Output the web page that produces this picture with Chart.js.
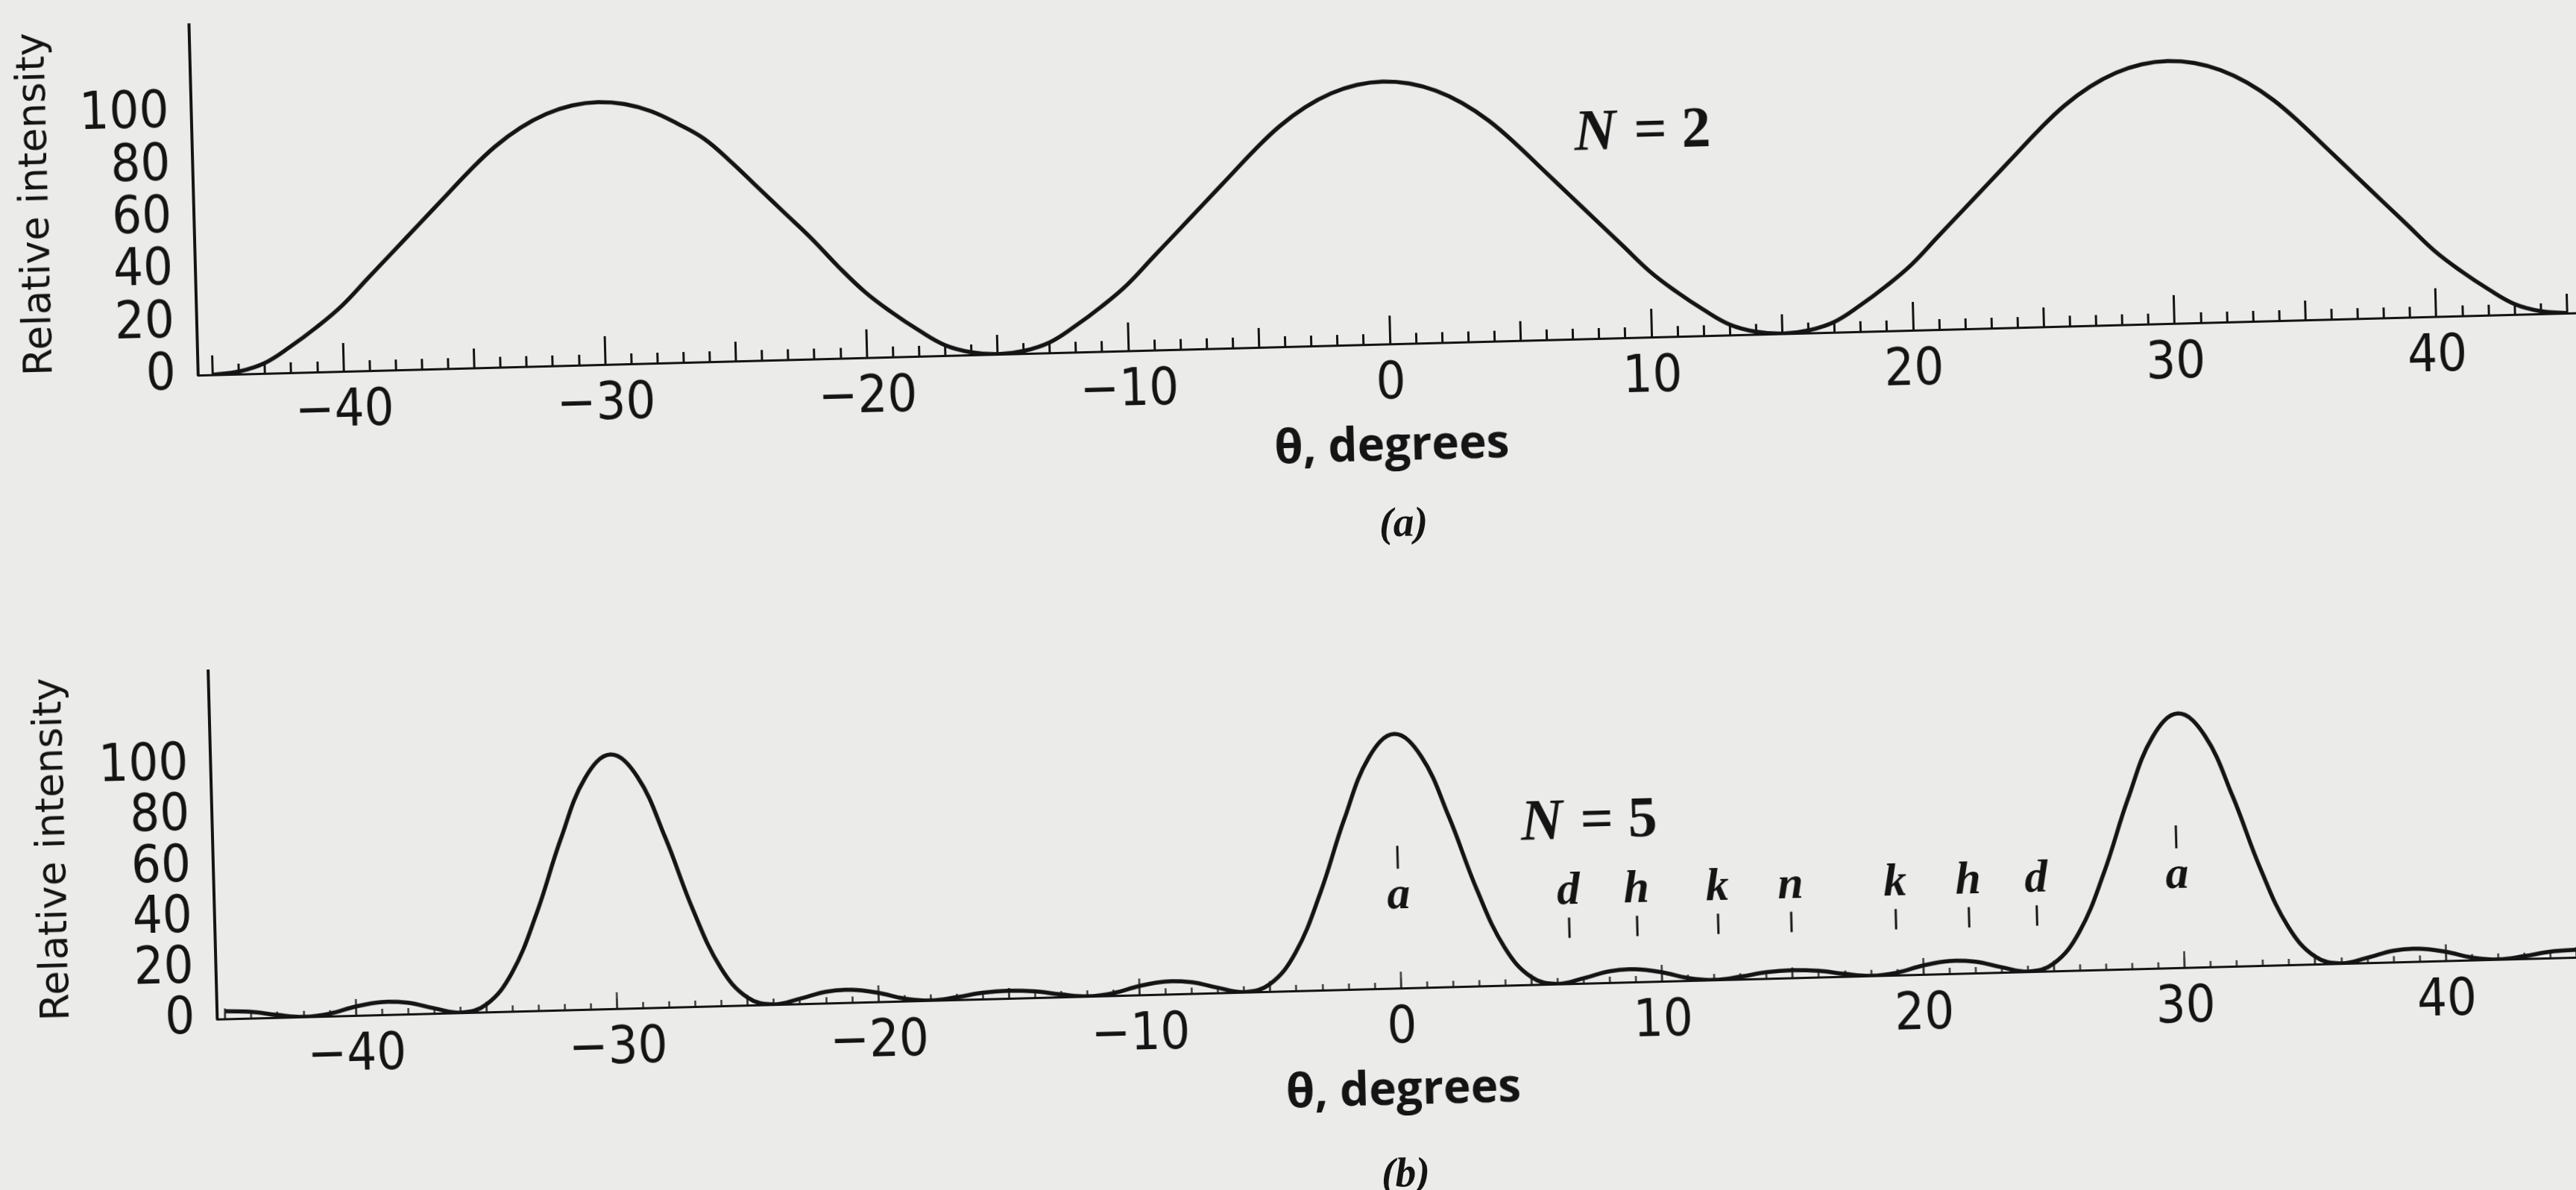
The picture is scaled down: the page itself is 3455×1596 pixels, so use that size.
<!DOCTYPE html>
<html lang="en">
<head>
<meta charset="utf-8">
<title>Relative intensity for N = 2 and N = 5</title>
<script src="https://cdn.jsdelivr.net/npm/chart.js@4.4.1/dist/chart.umd.min.js"></script>
<style>
  html, body { margin: 0; padding: 0; width: 3455px; height: 1596px; overflow: hidden; background: #ebebea; }
  /* the printed figure sits slightly skewed on the page */
  #sheet { position: absolute; left: -100px; top: -100px; width: 3655px; height: 1796px;
           transform-origin: 1827.5px 898px; transform: rotate(-1.5deg); }
  #sheet canvas { position: absolute; }
  .caption { position: absolute; transform: translate(-50%, -50%);
             font: italic bold 56px "Liberation Serif", "DejaVu Serif", serif;
             color: #141414; white-space: nowrap; }
</style>
</head>
<body>
<div id="sheet">
  <canvas id="chartA" width="3490" height="680" style="left:100px; top:85px; width:3490px; height:680px;"></canvas>
  <div class="caption" style="left:1985px; top:804px;">(a)</div>
  <canvas id="chartB" width="3473" height="677" style="left:100px; top:952px; width:3473px; height:677px;"></canvas>
  <div class="caption" style="left:1965px; top:1676px;">(b)</div>
</div>
<script>
const INK = '#141414';

// angle samples, degrees
const THETA = [
  -45, -44, -43, -42, -41, -40, -39, -38, -37, -36,
  -35, -34, -33, -32, -31, -30, -29, -28, -27, -26,
  -25, -24, -23, -22, -21, -20, -19, -18, -17, -16,
  -15, -14, -13, -12, -11, -10,  -9,  -8,  -7,  -6,
   -5,  -4,  -3,  -2,  -1,   0,   1,   2,   3,   4,
    5,   6,   7,   8,   9,  10,  11,  12,  13,  14,
   15,  16,  17,  18,  19,  20,  21,  22,  23,  24,
   25,  26,  27,  28,  29,  30,  31,  32,  33,  34,
   35,  36,  37,  38,  39,  40,  41,  42,  43,  44,
   45
];

// relative intensity, two sources (N = 2)
const N2_INTENSITY = [
    0,   1,   4,  10,  17,  25,  35,  45,  55,  65,
   75,  84,  91,  96,  99, 100,  99,  96,  91,  85,
   76,  66,  56,  46,  35,  25,  17,  10,   4,   1,
    0,   1,   4,  10,  17,  25,  35,  45,  55,  65,
   75,  84,  91,  96,  99, 100,  99,  96,  91,  84,
   75,  65,  55,  45,  35,  25,  17,  10,   4,   1,
    0,   1,   4,  10,  17,  25,  35,  45,  55,  65,
   75,  84,  91,  96,  99, 100,  99,  96,  91,  84,
   75,  65,  55,  45,  35,  25,  17,  10,   4,   1,
    0
];

// relative intensity, five sources (N = 5)
const N5_INTENSITY = [
    3, 2.5,   1,   0,   1, 3.5,   5, 4.5,   2,   0,
    3,  15,  38,  67,  91, 100,  91,  67,  38,  15,
    3,   0,   2, 4.5,   5, 3.5,   1,   0,   1, 2.5,
    3, 2.5,   1,   0,   1, 3.5,   5, 4.5,   2,   0,
    3,  15,  38,  67,  91, 100,  91,  67,  38,  15,
    3,   0,   2, 4.5,   5, 3.5,   1,   0,   1, 2.5,
    3, 2.5,   1,   0,   1, 3.5,   5, 4.5,   2,   0,
    3,  15,  38,  67,  91, 100,  91,  67,  38,  15,
    3,   0,   2, 4.5,   5, 3.5,   1,   0,   1, 2.5,
    3
];

const X_TICKS = [-40, -30, -20, -10, 0, 10, 20, 30, 40];
const Y_TICKS = [0, 20, 40, 60, 80, 100];

// lettered positions under the N = 5 curve
const MARK_THETA   = [0, 6.5, 9.1, 12.2, 15.0, 19.0, 21.8, 24.4, 29.8];
const MARK_LETTERS = ['a', 'd', 'h', 'k', 'n', 'k', 'h', 'd', 'a'];

// one-degree scale marks along the angle axis
const DEGREE_MARKS = [];
for (let d = -45; d <= 45; d++) DEGREE_MARKS.push(d);

const TICK_FONT  = { family: '"Liberation Sans Narrow", "DejaVu Sans Condensed", Roboto, sans-serif', size: 70 };
const YTITLE_FONT = { family: '"DejaVu Sans", Verdana, sans-serif', size: 53 };
const XTITLE_FONT = { family: '"Open Sans", "Noto Sans", sans-serif', size: 62, weight: 'bold' };

const minusLabel = v => (v < 0 ? '\u2212' + Math.abs(v) : String(v));

// text drawn inside the plot: the N label and the lettered marks
const figureNotes = {
  id: 'figureNotes',
  afterDatasetsDraw(chart, _args, opts) {
    const { ctx } = chart;
    const xs = chart.scales.x, ys = chart.scales.y;
    ctx.save();
    ctx.fillStyle = INK;
    ctx.strokeStyle = INK;
    if (opts.n) {
      const cx = xs.getPixelForValue(opts.n.x);
      const cy = ys.getPixelForValue(opts.n.y);
      const italic = 'italic bold 78px "Liberation Serif", serif';
      const upright = 'bold 78px "Liberation Serif", serif';
      const tail = ' = ' + opts.n.count;
      ctx.font = italic;  const w1 = ctx.measureText('N').width;
      ctx.font = upright; const w2 = ctx.measureText(tail).width;
      const x0 = cx - (w1 + w2) / 2;
      ctx.textAlign = 'left';
      ctx.textBaseline = 'middle';
      ctx.font = italic;  ctx.fillText('N', x0, cy);
      ctx.font = upright; ctx.fillText(tail, x0 + w1 + 4, cy);
    }
    if (opts.marks) {
      const m = opts.marks;
      ctx.font = 'italic bold 62px "Liberation Serif", serif';
      ctx.textAlign = 'center';
      ctx.textBaseline = 'alphabetic';
      ctx.lineWidth = 3;
      m.theta.forEach((t, i) => {
        const px = xs.getPixelForValue(t);
        const letter = m.letters[i];
        ctx.fillText(letter, px, ys.getPixelForValue(m.baseline));
        const span = letter === 'a' ? m.above : m.below;
        ctx.beginPath();
        ctx.moveTo(px, ys.getPixelForValue(span[0]));
        ctx.lineTo(px, ys.getPixelForValue(span[1]));
        ctx.stroke();
      });
    }
    ctx.restore();
  }
};

// a row of upward scale marks sitting on the zero line
function markRow(step, length, color, width, min, max) {
  const values = DEGREE_MARKS.filter(v => v % step === 0);
  return {
    type: 'linear', axis: 'x', position: { y: 0 }, min, max,
    afterBuildTicks: s => { s.ticks = values.map(v => ({ value: v })); },
    ticks: { display: false },
    grid: { display: true, drawOnChartArea: false, drawTicks: true,
            tickLength: -length, tickColor: color, tickWidth: width },
    border: { display: false }
  };
}

function buildChart(id, c) {
  return new Chart(document.getElementById(id), {
    type: 'line',
    data: {
      datasets: [{
        data: THETA.map((t, i) => ({ x: t, y: c.values[i] })),
        borderColor: INK, borderWidth: 5.5,
        pointRadius: 0, fill: false,
        tension: 0.4
      }]
    },
    plugins: [figureNotes],
    options: {
      responsive: false, animation: false, events: [],
      layout: { padding: { top: 10, right: 20, bottom: 0, left: 0 } },
      plugins: { legend: { display: false }, tooltip: { enabled: false }, figureNotes: c.notes },
      scales: {
        x: {
          type: 'linear', min: c.xMin, max: c.xMax,
          afterBuildTicks: s => { s.ticks = X_TICKS.map(v => ({ value: v })); },
          afterFit: s => { s.height = 200; s.paddingLeft = 0; s.paddingRight = 0; },
          ticks: { callback: v => minusLabel(v), font: TICK_FONT, color: INK, padding: 13,
                   maxRotation: 0, autoSkip: false },
          grid: { display: false, drawTicks: false },
          border: { display: true, color: INK, width: 3, dash: c.baselineDash },
          title: { display: true, text: '\u03b8, degrees', font: XTITLE_FONT, color: INK,
                   padding: { top: 0, bottom: 24 } }
        },
        y: {
          type: 'linear', min: 0, max: c.yMax,
          afterBuildTicks: s => { s.ticks = Y_TICKS.map(v => ({ value: v })); },
          afterFit: s => { s.width = c.axisWidth; s.paddingTop = 0; s.paddingBottom = 0; },
          ticks: { font: TICK_FONT, color: INK, padding: 30, autoSkip: false },
          grid: { display: false, drawTicks: false },
          border: { display: true, color: INK, width: 4 },
          title: { display: true, text: 'Relative intensity', font: YTITLE_FONT, color: INK,
                   padding: { top: 32, bottom: 0 } }
        },
        xMark1:  markRow(1,  c.marks[0], c.markColor, c.markWidth, c.xMin, c.xMax),
        xMark5:  markRow(5,  c.marks[1], c.markColor, c.markWidth, c.xMin, c.xMax),
        xMark10: markRow(10, c.marks[2], c.markColor, c.markWidth, c.xMin, c.xMax)
      }
    }
  });
}

buildChart('chartA', {
  values: N2_INTENSITY,
  xMin: -45.56, xMax: 45.5, yMax: 133.5, axisWidth: 274,
  baselineDash: [5, 9],
  marks: [14, 26, 38], markColor: INK, markWidth: 3,
  notes: { n: { x: 9.8, y: 78, count: 2 } }
});

buildChart('chartB', {
  values: N5_INTENSITY,
  xMin: -45.31, xMax: 45.3, yMax: 137, axisWidth: 277,
  baselineDash: [16, 12],
  marks: [8, 14, 22], markColor: '#3a3a3a', markWidth: 2.5,
  notes: {
    n: { x: 7.3, y: 63, count: 5 },
    marks: { theta: MARK_THETA, letters: MARK_LETTERS, baseline: 31.5, above: [47, 56], below: [18, 26] }
  }
});
</script>
</body>
</html>
